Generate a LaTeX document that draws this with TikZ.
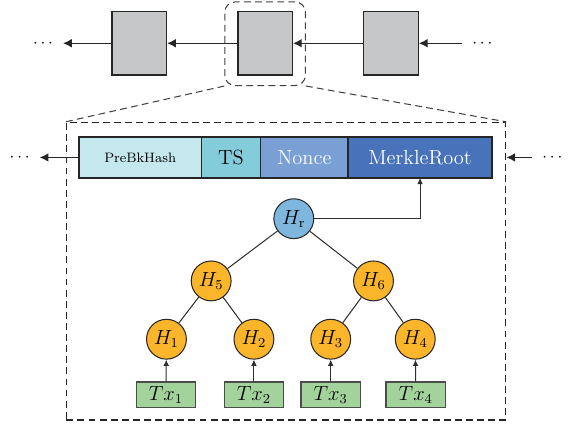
\documentclass[tikz,border=0pt]{standalone}
\usepackage{tikz}
\usetikzlibrary{arrows.meta,calc,positioning}
\definecolor{blockgray}{HTML}{C6C7C9}
\definecolor{prevcyan}{HTML}{C5E8EE}
\definecolor{tscyan}{HTML}{84CCD9}
\definecolor{nonceblue}{HTML}{7A9FD4}
\definecolor{rootblue}{HTML}{4873BB}
\definecolor{hashorange}{HTML}{FBB52B}
\definecolor{roothash}{HTML}{7FB6DE}
\definecolor{txgreen}{HTML}{A2D39A}
\tikzset{
    blockbox/.style={
        rectangle,
        draw=gray!30!black,
        fill=blockgray,
        thick,
        minimum width=1.12cm,
        minimum height=1.3cm
    },
    fieldbox/.style={
        rectangle,
        draw=black!85,
        thick,
        outer sep=0pt,
        minimum height=0.84cm,
        inner sep=1pt,
        font=\fontsize{12}{14}\selectfont
    },
    hashnode/.style={
        circle,
        draw=black!85,
        fill=hashorange,
        semithick,
        minimum size=0.82cm,
        inner sep=0pt,
        font=\fontsize{12}{14}\selectfont
    },
    txbox/.style={
        rectangle,
        draw=gray!60!black,
        fill=txgreen,
        thick,
        minimum width=1.22cm,
        minimum height=0.52cm,
        inner sep=0pt,
        font=\fontsize{11.5}{13}\selectfont
    },
    dotsnode/.style={
        inner ysep=0pt,
        inner xsep=0.2cm
    },
    chainarrow/.style={
        -{Latex[length=1.8mm,width=1.8mm]},
        thick,
        draw=black!85
    },
    treeline/.style={
        draw=gray!35!black,
        semithick
    },
    txarrow/.style={
        -{Latex[length=1.3mm,width=1.2mm]},
        draw=gray!35!black,
        semithick
    },
    zoomline/.style={
        dash pattern=on 4pt off 2.5pt,
        semithick,
        draw=black!75
    }
}

\begin{document}
\begin{tikzpicture}[x=0.02cm, y=-0.02cm]
    % Chain of blocks
    \node[blockbox] (blockA) at (138,44.5) {};
    \node[blockbox] (blockB) at (267.5,44.5) {};
    \node[blockbox] (blockC) at (397,44.5) {};
    \node[dotsnode] (chainleft) at (39,44.5) {$\cdots$};
    \node[dotsnode] (chainright) at (491,44.5) {$\cdots$};

    \draw[chainarrow] (chainright) -- (blockC.east);
    \draw[chainarrow] (blockC) -- (blockB.east);
    \draw[chainarrow] (blockB) -- (blockA.east);
    \draw[chainarrow] (blockA) -- (chainleft);

    % Zoomed block
    \node[zoomline, draw, rounded corners=6pt, minimum width=1.66cm, minimum height=1.72cm] (focus) at (267.5,45) {};
    \node[draw=black!85, dash pattern=on 4pt off 2.5pt, thick, minimum width=9.04cm, minimum height=6.12cm] (blockview) at (289,279) {};
    \draw[zoomline] (focus.south west) -- (blockview.north west);
    \draw[zoomline] (focus.south east) -- (blockview.north east);

    % Block header
    \node[fieldbox, fill=prevcyan, minimum width=2.52cm, font=\footnotesize, anchor=west] (prevhash) at (76,162) {PreBkHash};
    \node[fieldbox, fill=tscyan, minimum width=1.22cm, right=0pt of prevhash] (timestamp) {TS};
    \node[fieldbox, fill=nonceblue, text=white, minimum width=1.8cm, right=0pt of timestamp] (nonce) {Nonce};
    \node[fieldbox, fill=rootblue, text=white, minimum width=2.96cm, right=0pt of nonce] (merkleroot) {MerkleRoot};
    \node[dotsnode] (headleft) at (15,162) {$\cdots$};
    \node[dotsnode] (headright) at (563,162) {$\cdots$};

    \draw[chainarrow] (prevhash) -- (headleft);
    \draw[chainarrow] (headright) -- (blockview.east |- headright);

    % Merkle tree
    \node[hashnode, fill=roothash] (hroot) at (297,225) {$H_{\mathrm{r}}$};
    \node[hashnode] (h5) at (212,289) {$H_5$};
    \node[hashnode] (h6) at (379,289) {$H_6$};
    \node[hashnode] (h1) at (166,349) {$H_1$};
    \node[hashnode] (h2) at (256,349) {$H_2$};
    \node[hashnode] (h3) at (335,349) {$H_3$};
    \node[hashnode] (h4) at (422,349) {$H_4$};

    \node[txbox] (tx1) at (165.5,406) {$Tx_1$};
    \node[txbox] (tx2) at (256,406) {$Tx_2$};
    \node[txbox] (tx3) at (335,406) {$Tx_3$};
    \node[txbox] (tx4) at (422.5,406) {$Tx_4$};

    \draw[treeline] (hroot) -- (h5);
    \draw[treeline] (hroot) -- (h6);
    \draw[treeline] (h5) -- (h1);
    \draw[treeline] (h5) -- (h2);
    \draw[treeline] (h6) -- (h3);
    \draw[treeline] (h6) -- (h4);

    \foreach \i in {1,...,4}
        \draw[txarrow] (tx\i) -- (h\i);

    \draw[txarrow] (hroot.east) -| (merkleroot.south);

    \useasboundingbox (0,0) rectangle (572,439);
\end{tikzpicture}
\end{document}
